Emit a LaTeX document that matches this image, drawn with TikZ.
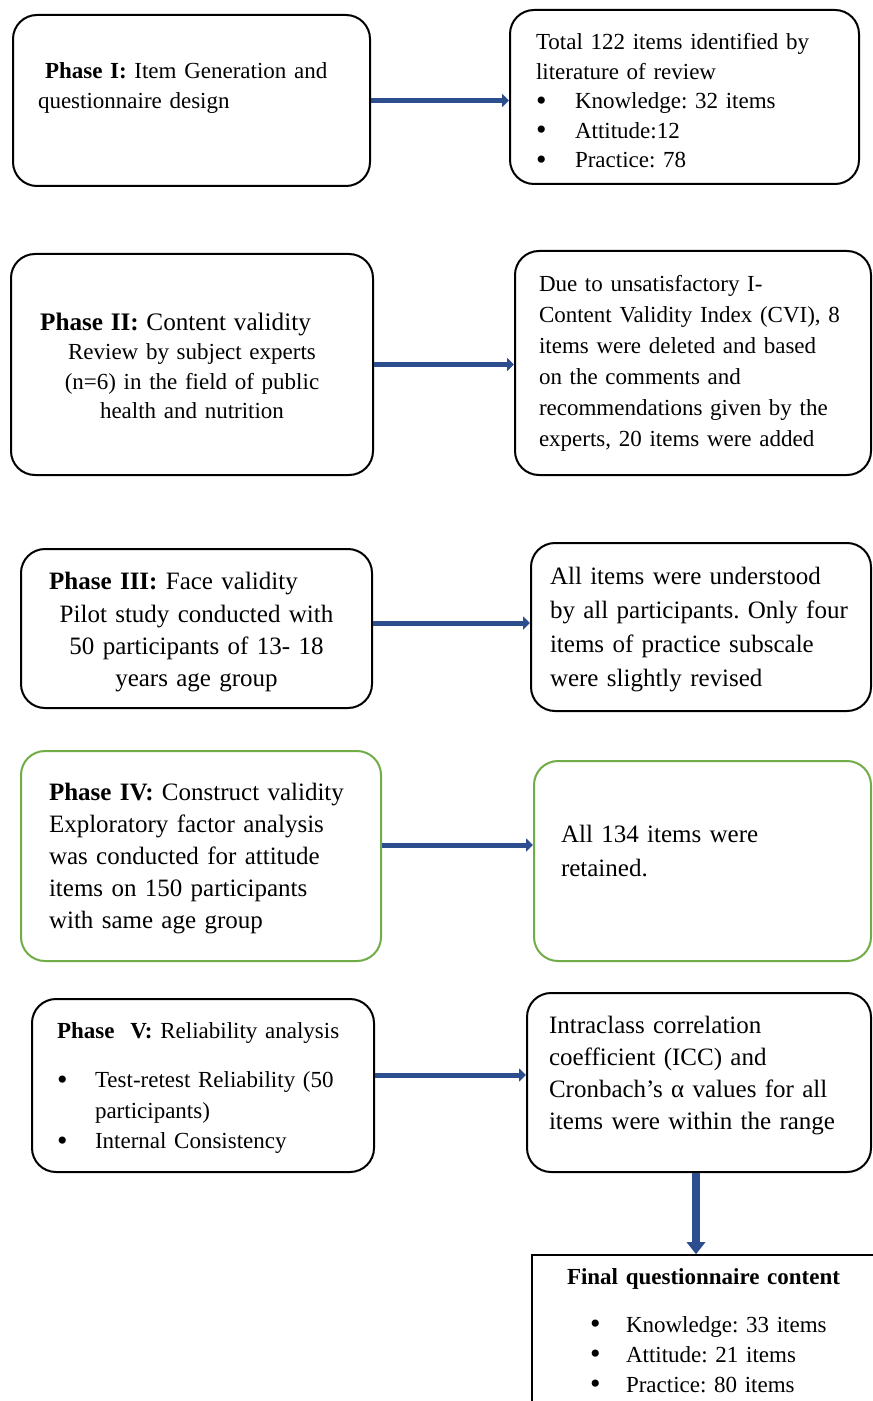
\documentclass[tikz,border=0pt]{standalone}
\usepackage{fontspec}
\usepackage{graphicx}
\setmainfont{Liberation Serif}
\frenchspacing
\usetikzlibrary{arrows.meta}
\definecolor{arrowblue}{RGB}{44,78,142}
\definecolor{boxgreen}{RGB}{112,173,71}
\newcommand{\bul}[1][19.5pt]{\makebox[#1][l]{\raisebox{-0.8pt}{\scalebox{1.3}{\textbullet}}}}
\tikzstyle{phase} = [rectangle, rounded corners=12pt, draw=black, line width=1pt, inner sep=0pt, align=left, font=\fontsize{11.5pt}{14.75pt}\selectfont]
\tikzstyle{phasegreen} = [phase, draw=boxgreen]
\tikzstyle{final} = [rectangle, draw=black, line width=0.8pt, inner sep=0pt, align=left, font=\fontsize{11.5pt}{15pt}\selectfont]
\tikzstyle{arrow} = [line width=2.5pt, arrowblue, -{Triangle[length=3.5pt,width=6.5pt]}]
\tikzstyle{varrow} = [line width=4pt, arrowblue, -{Triangle[length=6pt,width=9pt]}]

\begin{document}
\begin{tikzpicture}[x=0.5pt, y=-0.5pt]

\fill [white] (0,0) rectangle (872,1401);
\useasboundingbox (0,0) rectangle (872,1401);

\node (p1) [phase, minimum width=178.5pt, minimum height=85.5pt, text width=153.5pt, text depth=29.5pt] at (191.5,100.5) {\hspace*{3.5pt}\textbf{Phase I:} Item Generation and\\questionnaire design};
\node (r1) [phase, minimum width=174.5pt, minimum height=87pt, text width=148.5pt, text height=12.4pt] at (684.5,97) {Total 122 items identified by\\literature of review\\\bul Knowledge: 32 items\\\bul Attitude:12\\\bul Practice: 78};

\node (p2) [phase, align=center, font=\fontsize{11.5pt}{14.7pt}\selectfont, minimum width=181pt, minimum height=110.5pt, text width=165pt, text height=10.2pt] at (192,364.5) {{\fontsize{12.6pt}{14.7pt}\selectfont\textbf{Phase II:} Content validity}\hspace*{16.5pt}\mbox{}\\Review by subject experts\\(n=6) in the field of public\\health and nutrition};
\node (r2) [phase, font=\fontsize{11.5pt}{15.5pt}\selectfont, minimum width=178pt, minimum height=112pt, text width=154pt] at (693,363) {Due to unsatisfactory I-\\Content Validity Index (CVI), 8\\items were deleted and based\\on the comments and\\recommendations given by the\\experts, 20 items were added};

\node (p3) [phase, align=center, font=\fontsize{12.5pt}{16.2pt}\selectfont, minimum width=175.5pt, minimum height=79.5pt, text width=170pt, text height=12.5pt] at (196.5,628.5) {\textbf{Phase III:} Face validity\hspace*{23pt}\mbox{}\\Pilot study conducted with\\50 participants of 13- 18\\years age group};
\node (r3) [phase, font=\fontsize{12.5pt}{17pt}\selectfont, minimum width=170pt, minimum height=84pt, text width=151pt, text height=11.5pt] at (701,627) {All items were understood\\by all participants. Only four\\items of practice subscale\\were slightly revised};

\node (p4) [phasegreen, font=\fontsize{12.5pt}{16pt}\selectfont, minimum width=180pt, minimum height=105pt, text width=152pt, text height=11.5pt] at (201,856) {\textbf{Phase IV:} Construct validity\\Exploratory factor analysis\\was conducted for attitude\\items on 150 participants\\with same age group};
\node (r4) [phasegreen, font=\fontsize{12.5pt}{17pt}\selectfont, minimum width=168.5pt, minimum height=100pt, text width=141.5pt, text depth=27pt] at (702.5,861) {All 134 items were\\retained.};

\node (p5) [phase, font=\fontsize{11.5pt}{15.25pt}\selectfont, minimum width=171pt, minimum height=86.5pt, text width=146pt, text height=10.7pt] at (203,1085.5) {\textbf{Phase\hspace{8pt}V:} Reliability analysis\\[9.5pt]\bul[19pt]Test-retest Reliability (50\\\hspace*{19pt}participants)\\\bul[19pt]Internal Consistency};
\node (r5) [phase, font=\fontsize{12.5pt}{16pt}\selectfont, minimum width=172pt, minimum height=89.5pt, text width=150pt, text depth=58pt] at (699,1082.5) {Intraclass correlation\\coefficient (ICC) and\\Cronbach’s α values for all\\items were within the range};

\node (final) [final, minimum width=180pt, minimum height=76pt, text width=145pt] at (712,1331) {\textbf{Final questionnaire content}\\[9pt]\hspace*{11.5pt}\bul[18pt]Knowledge: 33 items\\\hspace*{11.5pt}\bul[18pt]Attitude: 21 items\\\hspace*{11.5pt}\bul[18pt]Practice: 80 items};

\draw [arrow] (p1.east) -- (p1.east -| r1.west);
\draw [arrow] (p2.east) -- (p2.east -| r2.west);
\draw [arrow] ([yshift=2.75pt]p3.east) -- ([yshift=2.75pt]p3.east -| r3.west);
\draw [arrow] ([yshift=5.5pt]p4.east) -- ([yshift=5.5pt]p4.east -| r4.west);
\draw [arrow] ([yshift=5.25pt]p5.east) -- ([yshift=5.25pt]p5.east -| r5.west);
\draw [varrow] ([xshift=-1.5pt]r5.south) -- ([xshift=-1.5pt]r5.south |- final.north);

\end{tikzpicture}
\end{document}
